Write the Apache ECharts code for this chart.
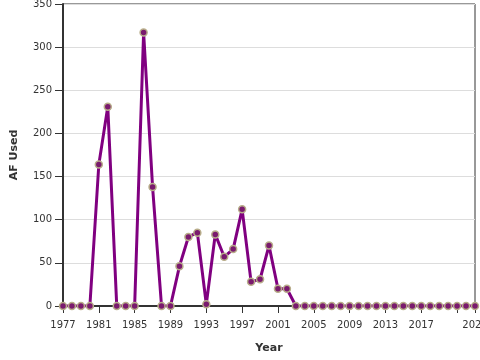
<!DOCTYPE html>
<html><head><meta charset="utf-8">
<script src="https://cdn.jsdelivr.net/npm/echarts@6/dist/echarts.min.js"></script>
<style>html,body{margin:0;padding:0;background:#fff}#c{width:480px;height:360px}</style>
</head><body><div id="c"></div>
<script>
var years = [];
for (var y = 1977; y <= 2023; y++) years.push(y);
var afUsed = [0,0,0,0,164,231,0,0,0,317,138,0,0,46,80,85,2,83,57,66,112,28,31,70,20,20,
  0,0,0,0,0,0,0,0,0,0,0,0,0,0,0,0,0,0,0,0,0];
var yTicks = [0,50,100,150,200,250,300,350];
var hiddenXLabels = [2021];

var chart = echarts.init(document.getElementById('c'), null, {renderer:'canvas'});
var font = 'DejaVu Sans';
chart.setOption({
  animation:false,
  grid:{left:63,right:5,top:4,bottom:54,containLabel:false,outerBoundsMode:'none',
    show:true,borderColor:'#333',borderWidth:1,backgroundColor:'transparent'},
  xAxis:{
    type:'value',min:1977,max:2023,interval:4,
    name:'Year',nameLocation:'middle',nameGap:37,
    nameTextStyle:{fontFamily:font,fontSize:11,fontWeight:'bold',color:'#333'},
    axisLine:{show:true,lineStyle:{color:'#333',width:2}},
    axisTick:{show:true,length:7,lineStyle:{color:'#333'}},
    axisLabel:{fontFamily:font,fontSize:10,color:'#333',margin:14,
      formatter:function(v){return hiddenXLabels.indexOf(v)>=0?'':String(v);}},
    splitLine:{show:false}
  },
  yAxis:{
    type:'value',min:yTicks[0],max:yTicks[yTicks.length-1],interval:50,
    name:'AF Used',nameLocation:'middle',nameGap:43,nameRotate:90,
    nameTextStyle:{fontFamily:font,fontSize:11,fontWeight:'bold',color:'#333'},
    axisLine:{show:true,lineStyle:{color:'#333',width:2}},
    axisTick:{show:true,length:8,lineStyle:{color:'#333'}},
    axisLabel:{fontFamily:font,fontSize:10,color:'#333',margin:11},
    splitLine:{show:true,lineStyle:{color:'#ddd',width:1}}
  },
  series:[{
    type:'line',
    data:years.map(function(yr,i){return [yr,afUsed[i]];}),
    lineStyle:{color:'#800080',width:3},
    symbol:'circle',symbolSize:7,
    itemStyle:{color:'#7a1a6e',borderColor:'#b8ad8a',borderWidth:1.5},
    z:3
  }]
});
</script></body></html>
